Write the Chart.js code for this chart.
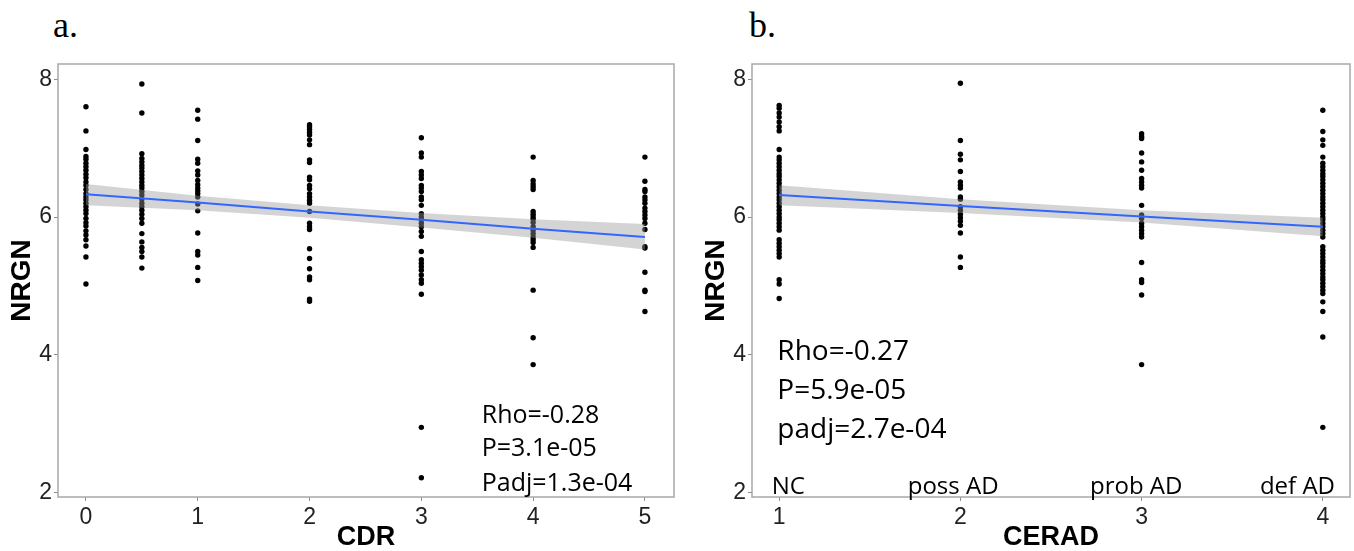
<!DOCTYPE html>
<html>
<head>
<meta charset="utf-8">
<script src="https://cdn.jsdelivr.net/npm/chart.js@4/dist/chart.umd.min.js"></script>
<style>
  body { margin: 0; background: #fff; }
  #wrap { position: relative; width: 1354px; height: 551px; }
  .panel { position: absolute; top: 0; }
  .tag { position: absolute; top: 4px; font-family: "Liberation Serif", serif; font-size: 36px; color: #000; }
</style>
</head>
<body>
<div id="wrap">
  <div class="tag" style="left:53px">a.</div>
  <div class="tag" style="left:749px">b.</div>
  <canvas id="cdrChart" class="panel" style="left:0" width="690" height="551"></canvas>
  <canvas id="ceradChart" class="panel" style="left:690px" width="664" height="551"></canvas>
</div>
<script>
// ---- panel a: NRGN by CDR ----
var cdrLevels = [0, 0.5, 1, 2, 3, 4, 5];
var cdrNrgn = [
  [7.60, 7.25, 6.98, 6.88, 6.84, 6.78, 6.73, 6.68, 6.62, 6.57, 6.51, 6.46, 6.40, 6.34, 6.29, 6.25, 6.20, 6.15, 6.10, 6.05, 5.98, 5.92, 5.87, 5.80, 5.74, 5.67, 5.58, 5.42, 5.03],
  [7.93, 7.51, 6.92, 6.85, 6.80, 6.75, 6.71, 6.66, 6.61, 6.56, 6.51, 6.46, 6.42, 6.37, 6.32, 6.26, 6.20, 6.15, 6.10, 6.04, 5.98, 5.91, 5.76, 5.64, 5.56, 5.50, 5.42, 5.26],
  [7.55, 7.42, 7.11, 6.84, 6.78, 6.67, 6.61, 6.53, 6.47, 6.42, 6.38, 6.34, 6.29, 6.19, 6.09, 5.77, 5.50, 5.45, 5.27, 5.08],
  [7.34, 7.31, 7.27, 7.23, 7.19, 7.12, 7.05, 6.83, 6.79, 6.58, 6.54, 6.46, 6.41, 6.34, 6.29, 6.24, 6.20, 6.08, 5.91, 5.86, 5.82, 5.54, 5.40, 5.25, 5.13, 5.09, 4.81, 4.78],
  [7.15, 6.93, 6.87, 6.66, 6.61, 6.56, 6.46, 6.42, 6.37, 6.29, 6.25, 6.17, 6.05, 6.00, 5.96, 5.91, 5.86, 5.79, 5.72, 5.50, 5.38, 5.33, 5.28, 5.23, 5.16, 5.09, 5.04, 4.88, 2.95, 2.22],
  [6.87, 6.53, 6.48, 6.44, 6.40, 6.08, 6.04, 6.00, 5.97, 5.92, 5.86, 5.81, 5.76, 5.71, 5.67, 5.63, 5.56, 4.94, 4.25, 3.86],
  [6.87, 6.52, 6.40, 6.37, 6.29, 6.25, 6.20, 6.13, 6.08, 6.03, 5.98, 5.91, 5.82, 5.57, 5.55, 5.20, 4.94, 4.92, 4.63]
];
var cdrFitX = [0, 1, 2, 3, 4, 5];
var cdrFit = [6.33, 6.21, 6.08, 5.96, 5.83, 5.71];
var cdrUpper = [6.48, 6.31, 6.17, 6.06, 5.97, 5.90];
var cdrLower = [6.17, 6.10, 5.99, 5.85, 5.70, 5.53];
var cdrTicks = [0, 1, 2, 3, 4, 5];
var cdrStats = ['Rho=-0.28', 'P=3.1e-05', 'Padj=1.3e-04'];

// ---- panel b: NRGN by CERAD ----
var ceradLevels = [1, 2, 3, 4];
var ceradNrgn = [
  [7.62, 7.58, 7.51, 7.45, 7.38, 7.31, 7.25, 6.98, 6.87, 6.83, 6.78, 6.73, 6.68, 6.63, 6.59, 6.54, 6.49, 6.44, 6.39, 6.34, 6.29, 6.25, 6.20, 6.15, 6.10, 6.05, 6.00, 5.96, 5.91, 5.86, 5.81, 5.67, 5.62, 5.57, 5.52, 5.47, 5.42, 5.09, 5.03, 4.82],
  [7.94, 7.11, 6.91, 6.83, 6.66, 6.51, 6.46, 6.42, 6.29, 6.26, 6.15, 6.10, 6.04, 5.99, 5.94, 5.88, 5.77, 5.42, 5.27],
  [7.21, 7.17, 7.14, 6.93, 6.80, 6.68, 6.56, 6.51, 6.46, 6.42, 6.17, 6.03, 5.98, 5.91, 5.86, 5.81, 5.76, 5.71, 5.34, 5.09, 5.05, 4.87, 3.86],
  [7.55, 7.24, 7.12, 7.04, 6.87, 6.78, 6.73, 6.68, 6.63, 6.59, 6.54, 6.49, 6.44, 6.39, 6.34, 6.29, 6.25, 6.20, 6.15, 6.10, 6.05, 6.00, 5.96, 5.91, 5.86, 5.81, 5.76, 5.71,
   5.57, 5.52, 5.47, 5.42, 5.37, 5.33, 5.28, 5.23, 5.18, 5.13, 5.09, 5.04, 4.99, 4.94, 4.89, 4.77, 4.63, 4.26, 2.95]
];
var ceradFitX = [1, 2, 3, 4];
var ceradFit = [6.32, 6.16, 6.01, 5.86];
var ceradUpper = [6.46, 6.26, 6.10, 5.99];
var ceradLower = [6.17, 6.06, 5.92, 5.72];
var ceradTicks = [1, 2, 3, 4];
var ceradNames = ['NC', 'poss AD', 'prob AD', 'def AD'];
var ceradStats = ['Rho=-0.27', 'P=5.9e-05', 'padj=2.7e-04'];

var yTicks = [2, 4, 6, 8];

function toPoints(levels, groups) {
    var pts = [];
    levels.forEach(function (lv, i) {
        groups[i].forEach(function (v) { pts.push({x: lv, y: v}); });
    });
    return pts;
}
function pairs(xs, ys) {
    return xs.map(function (x, i) { return {x: x, y: ys[i]}; });
}

// grey box around the plotting panel
var panelBox = {
    id: 'panelBox',
    afterDatasetsDraw: function (chart) {
        var ctx = chart.ctx, a = chart.chartArea;
        ctx.save();
        ctx.strokeStyle = '#a8a8a8';
        ctx.lineWidth = 1.5;
        ctx.strokeRect(a.left, a.top, a.right - a.left, a.bottom - a.top);
        ctx.restore();
    }
};

// text placed in data coordinates
function notesPlugin(items) {
    return {
        id: 'notes',
        afterDraw: function (chart) {
            var ctx = chart.ctx, sx = chart.scales.x, sy = chart.scales.y;
            ctx.save();
            ctx.fillStyle = '#000';
            ctx.textBaseline = 'alphabetic';
            items.forEach(function (it) {
                ctx.font = it.font;
                ctx.textAlign = it.align;
                ctx.fillText(it.text, sx.getPixelForValue(it.x), sy.getPixelForValue(it.y));
            });
            ctx.restore();
        }
    };
}

function makeChart(id, opt) {
    var ctx = document.getElementById(id).getContext('2d');
    return new Chart(ctx, {
        type: 'scatter',
        data: {
            datasets: [{
                label: 'points',
                data: opt.points,
                pointRadius: 2.7,
                pointBackgroundColor: '#000',
                pointBorderWidth: 0,
                order: 3
            }, {
                label: 'lower',
                data: opt.lower,
                showLine: true,
                borderWidth: 0,
                pointRadius: 0,
                fill: false,
                order: 2
            }, {
                label: 'upper',
                data: opt.upper,
                showLine: true,
                borderWidth: 0,
                pointRadius: 0,
                fill: 1,
                backgroundColor: 'rgba(153,153,153,0.42)',
                order: 1
            }, {
                label: 'fit',
                data: opt.fit,
                showLine: true,
                borderColor: '#3366FF',
                borderWidth: 2,
                pointRadius: 0,
                fill: false,
                order: 0
            }]
        },
        options: {
            responsive: false,
            animation: false,
            layout: {padding: {left: 0, right: opt.padRight, top: 64, bottom: 0}},
            plugins: {
                legend: {display: false},
                tooltip: {enabled: false}
            },
            scales: {
                x: {
                    type: 'linear',
                    min: opt.xMin,
                    max: opt.xMax,
                    afterBuildTicks: function (s) { s.ticks = opt.xTicks.map(function (v) { return {value: v}; }); },
                    afterFit: function (s) { s.height = 54; },
                    grid: {drawOnChartArea: false, drawTicks: true, tickLength: 4, color: '#8c8c8c'},
                    border: {display: false},
                    ticks: {color: '#222', padding: 3, font: {family: 'Liberation Sans', size: 23}},
                    title: {
                        display: true, text: opt.xTitle, color: '#000',
                        font: {family: 'Liberation Sans', size: 27, weight: 'bold', lineHeight: 1},
                        padding: {top: 0, bottom: 0}
                    }
                },
                y: {
                    type: 'linear',
                    min: 1.94,
                    max: 8.22,
                    afterBuildTicks: function (s) { s.ticks = yTicks.map(function (v) { return {value: v}; }); },
                    afterFit: function (s) { s.width = opt.yWidth; },
                    grid: {drawOnChartArea: false, drawTicks: true, tickLength: 4, color: '#8c8c8c'},
                    border: {display: false},
                    ticks: {color: '#222', padding: 2, font: {family: 'Liberation Sans', size: 23}},
                    title: {
                        display: true, text: 'NRGN', color: '#000',
                        font: {family: 'Liberation Sans', size: 28, weight: 'bold', lineHeight: 1},
                        padding: {top: opt.yTitlePad, bottom: 0}
                    }
                }
            }
        },
        plugins: [panelBox, notesPlugin(opt.notes)]
    });
}

var cdrNotes = cdrStats.map(function (t, i) {
    return {text: t, x: 3.54, y: [3.02, 2.53, 2.02][i], align: 'left', font: '25px "Open Sans"'};
});
makeChart('cdrChart', {
    points: toPoints(cdrLevels, cdrNrgn),
    fit: pairs(cdrFitX, cdrFit),
    upper: pairs(cdrFitX, cdrUpper),
    lower: pairs(cdrFitX, cdrLower),
    xMin: -0.25, xMax: 5.26, xTicks: cdrTicks, xTitle: 'CDR',
    padRight: 16, yWidth: 58, yTitlePad: 8,
    notes: cdrNotes
});

var ceradNotes = ceradStats.map(function (t, i) {
    return {text: t, x: 0.99, y: [3.93, 3.36, 2.80][i], align: 'left', font: '28px "Open Sans"'};
});
ceradNames.forEach(function (t, i) {
    ceradNotes.push({text: t, x: [1.05, 1.96, 2.97, 3.86][i], y: 1.99, align: 'center', font: '24px "Open Sans"'});
});
makeChart('ceradChart', {
    points: toPoints(ceradLevels, ceradNrgn),
    fit: pairs(ceradFitX, ceradFit),
    upper: pairs(ceradFitX, ceradUpper),
    lower: pairs(ceradFitX, ceradLower),
    xMin: 0.85, xMax: 4.15, xTicks: ceradTicks, xTitle: 'CERAD',
    padRight: 4, yWidth: 62, yTitlePad: 12,
    notes: ceradNotes
});
</script>
</body>
</html>
